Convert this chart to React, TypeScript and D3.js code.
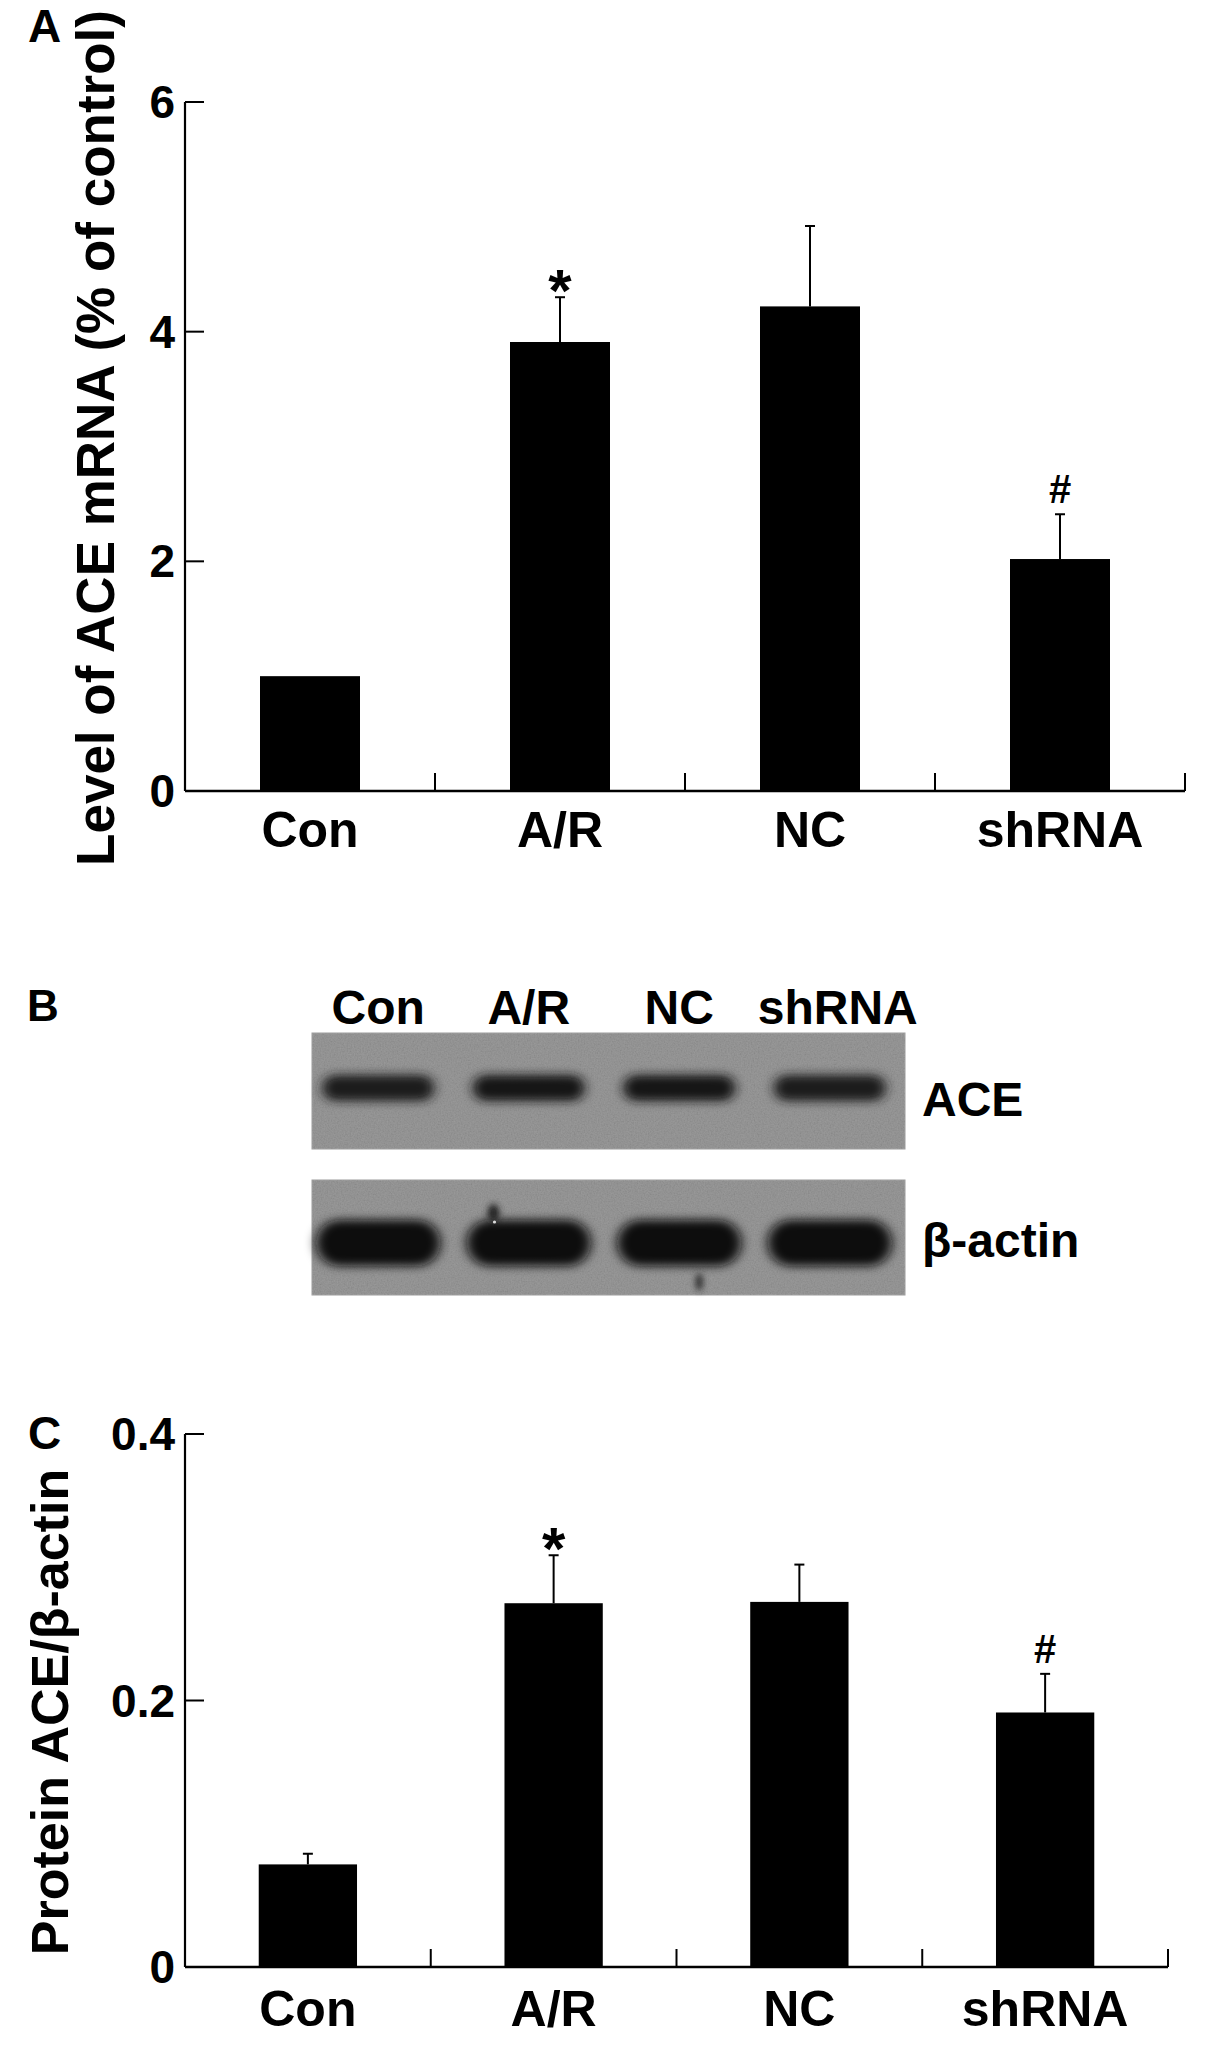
import * as d3 from "d3";

const W = 1205;
const H = 2063;
const FONT = "'Liberation Sans', Arial, Helvetica, sans-serif";

// groups shared by all three panels
const groups = ["Con", "A/R", "NC", "shRNA"];

// panel A: ACE mRNA, fold of control
const mrnaMean = [1.0, 3.91, 4.22, 2.02];
const mrnaSem = [0, 0.39, 0.7, 0.39];
const mrnaTicks = [0, 2, 4, 6];

// panel C: ACE / beta-actin ratio
const protMean = [0.077, 0.273, 0.274, 0.191];
const protSem = [0.008, 0.036, 0.028, 0.029];
const protTicks = [0, 0.2, 0.4];

// significance marks above each bar
const marks = ["", "*", "", "#"];

// panel B: relative band darkness per lane
const aceDensity = [0.88, 0.92, 0.95, 0.86];
const actinDensity = [1, 1, 1, 1];

type BarProps = {
  x: d3.ScaleBand<string>;
  y: d3.ScaleLinear<number, number>;
  means: number[];
  sems: number[];
  ticks: number[];
  fmt: (v: number) => string;
  yLabel: string;
  yLabelX: number;
  yLabelY: number;
  yLabelSize: number;
  xLabelY: number;
};

function BarPanel({ x, y, means, sems, ticks, fmt, yLabel, yLabelX, yLabelY, yLabelSize, xLabelY }: BarProps) {
  const [x0, x1] = x.range();
  const y0 = y(0);
  const yTop = y(y.domain()[1]);
  const edge = (c: string) => (x(c) as number) + x.bandwidth() + x.paddingOuter() * x.step();
  return (
    <g>
      {/* bars */}
      {groups.map((c, i) => (
        <rect key={c} x={x(c)} y={y(means[i])} width={x.bandwidth()} height={y0 - y(means[i])} fill="#000" />
      ))}
      {/* error bars, upper half only */}
      {groups.map((c, i) => {
        if (!sems[i]) return null;
        const cx = (x(c) as number) + x.bandwidth() / 2;
        const top = y(means[i] + sems[i]);
        return (
          <g key={c} stroke="#000" strokeWidth={2}>
            <line x1={cx} x2={cx} y1={y(means[i])} y2={top} />
            <line x1={cx - 5} x2={cx + 5} y1={top} y2={top} />
          </g>
        );
      })}
      {/* significance marks */}
      {groups.map((c, i) => {
        if (!marks[i]) return null;
        const cx = (x(c) as number) + x.bandwidth() / 2;
        const top = y(means[i] + sems[i]);
        const star = marks[i] === "*";
        return (
          <text key={c} x={cx} y={star ? top + 14 : top - 11} textAnchor="middle"
            fontFamily={FONT} fontWeight="bold" fontSize={star ? 60 : 40}>
            {marks[i]}
          </text>
        );
      })}
      {/* axes */}
      <line x1={x0} x2={x0} y1={yTop} y2={y0} stroke="#000" strokeWidth={2.2} />
      <line x1={x0} x2={x1} y1={y0} y2={y0} stroke="#000" strokeWidth={2.5} />
      {ticks.map((t) => (
        <g key={t}>
          <line x1={x0} x2={x0 + 19} y1={y(t)} y2={y(t)} stroke="#000" strokeWidth={2} />
          <text x={x0 - 10} y={y(t) + 16} textAnchor="end" fontFamily={FONT} fontWeight="bold" fontSize={46}>
            {fmt(t)}
          </text>
        </g>
      ))}
      {groups.map((c) => (
        <line key={c} x1={edge(c)} x2={edge(c)} y1={y0} y2={y0 - 18} stroke="#000" strokeWidth={2} />
      ))}
      {groups.map((c) => (
        <text key={c} x={(x(c) as number) + x.bandwidth() / 2} y={xLabelY} textAnchor="middle"
          fontFamily={FONT} fontWeight="bold" fontSize={50}>
          {c}
        </text>
      ))}
      <text transform={`translate(${yLabelX},${yLabelY}) rotate(-90)`} textAnchor="middle"
        fontFamily={FONT} fontWeight="bold" fontSize={yLabelSize}>
        {yLabel}
      </text>
    </g>
  );
}

function Blot({ lane, y0, y1, centerY, bandW, bandH, density, filterId }: any) {
  const [bx0, bx1] = [312, 905];
  return (
    <g>
      <rect x={bx0} y={y0} width={bx1 - bx0} height={y1 - y0} fill="#8c8c8c" stroke="#9c9c9c" strokeWidth={1} />
      <rect x={bx0} y={y0} width={bx1 - bx0} height={y1 - y0} filter="url(#grain)" />
      <g filter={`url(#${filterId})`}>
        {groups.map((c, i) => {
          const cx = (lane(c) as number) + lane.bandwidth() / 2;
          const shade = Math.round(115 - 100 * density[i]);
          return (
            <rect key={c} x={cx - bandW / 2} y={centerY - bandH / 2} width={bandW} height={bandH}
              rx={bandH / 2} fill={`rgb(${shade},${shade},${shade})`} />
          );
        })}
      </g>
    </g>
  );
}

export default function App() {
  const xA = d3.scaleBand<string>().domain(groups).range([185, 1185]).paddingInner(0.6).paddingOuter(0.3);
  const yA = d3.scaleLinear().domain([0, 6]).range([791, 102]);
  const xC = d3.scaleBand<string>().domain(groups).range([185, 1168]).paddingInner(0.6).paddingOuter(0.3);
  const yC = d3.scaleLinear().domain([0, 0.4]).range([1967, 1434]);
  const lane = d3.scaleBand<string>().domain(groups).range([303, 905]);

  return (
    <svg width={W} height={H} viewBox={`0 0 ${W} ${H}`}
      style={{ position: "absolute", left: 0, top: 0, display: "block", background: "#fff" }}>
      <defs>
        <filter id="grain" x="0" y="0" width="1" height="1">
          <feTurbulence type="fractalNoise" baseFrequency="0.7" numOctaves="2" seed="3" />
          <feColorMatrix type="matrix" values="1 0 0 0 0  1 0 0 0 0  1 0 0 0 0  0 0 0 0 0.13" />
        </filter>
        <filter id="blurAce" x="-20%" y="-100%" width="140%" height="300%">
          <feGaussianBlur stdDeviation="6 5" />
        </filter>
        <filter id="blurActin" x="-20%" y="-60%" width="140%" height="220%">
          <feGaussianBlur stdDeviation="6 5" />
        </filter>
        <filter id="soft">
          <feGaussianBlur stdDeviation="3" />
        </filter>
      </defs>

      {/* panel A */}
      <text x={28} y={42} fontFamily={FONT} fontWeight="bold" fontSize={46}>A</text>
      <BarPanel x={xA} y={yA} means={mrnaMean} sems={mrnaSem} ticks={mrnaTicks} fmt={(v) => String(v)}
        yLabel="Level of ACE mRNA (% of control)" yLabelX={114} yLabelY={438} yLabelSize={53} xLabelY={847} />

      {/* panel B: western blot */}
      <text x={27} y={1021} fontFamily={FONT} fontWeight="bold" fontSize={44}>B</text>
      {groups.map((c) => (
        <text key={c} x={(lane(c) as number) + lane.bandwidth() / 2 + (c === "shRNA" ? 8 : 0)} y={1024}
          textAnchor="middle" fontFamily={FONT} fontWeight="bold" fontSize={48}>
          {c}
        </text>
      ))}
      <Blot lane={lane} y0={1033} y1={1149} centerY={1088} bandW={112} bandH={26}
        density={aceDensity} filterId="blurAce" />
      <Blot lane={lane} y0={1180} y1={1295} centerY={1243} bandW={124} bandH={46}
        density={actinDensity} filterId="blurActin" />
      {/* small blemishes on the actin strip */}
      <g filter="url(#soft)">
        <ellipse cx={(lane("A/R") as number) + 40} cy={1213} rx={6} ry={9} fill="#222" />
        <ellipse cx={(lane("NC") as number) + lane.bandwidth() / 2 + 20} cy={1282} rx={4} ry={9} fill="#333" />
      </g>
      <circle cx={(lane("A/R") as number) + 41} cy={1222} r={1.6} fill="#ddd" />
      <text x={922} y={1116} fontFamily={FONT} fontWeight="bold" fontSize={48}>ACE</text>
      <text x={922} y={1257} fontFamily={FONT} fontWeight="bold" fontSize={48}>β-actin</text>

      {/* panel C */}
      <text x={28} y={1449} fontFamily={FONT} fontWeight="bold" fontSize={46}>C</text>
      <BarPanel x={xC} y={yC} means={protMean} sems={protSem} ticks={protTicks}
        fmt={(v) => (v === 0 ? "0" : d3.format(".1f")(v))}
        yLabel="Protein ACE/β-actin" yLabelX={68} yLabelY={1712} yLabelSize={52} xLabelY={2026} />
    </svg>
  );
}
